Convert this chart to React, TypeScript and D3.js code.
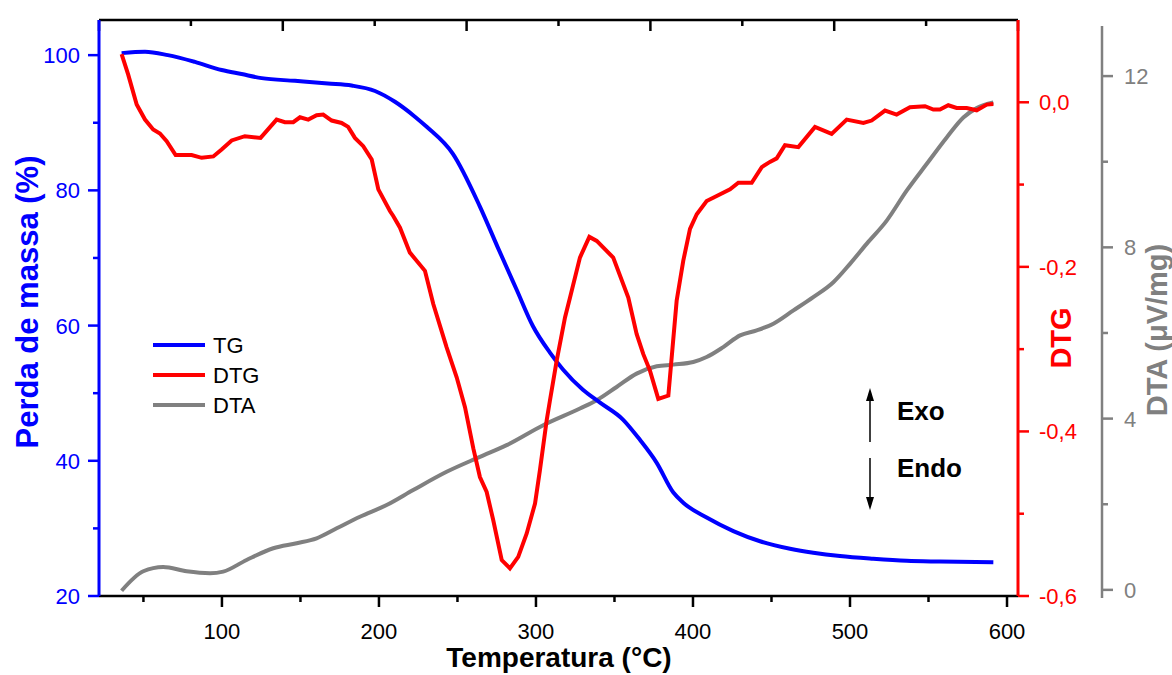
import * as d3 from "d3";

// temperatura (°C) e valores
const tgTemp = [36.1, 51.0, 65.6, 82.8, 99.8, 112.5, 125.3, 146.5, 167.5, 182.6, 197.5, 210.2, 222.9, 230.4, 247.1, 264.3, 275.8, 287.7, 298.1, 308.9, 317.2, 329.9, 340.8, 355.4, 366.2, 376.9, 387.5, 393.8, 408.7, 425.7, 442.7, 461.8, 476.6, 493.6, 514.8, 536.1, 557.3, 591.3];
const tgMass = [100.3, 100.5, 100.0, 99.0, 97.8, 97.2, 96.6, 96.2, 95.8, 95.5, 94.7, 93.1, 90.9, 89.4, 85.4, 77.6, 71.5, 65.3, 59.9, 56.0, 53.5, 50.5, 48.6, 46.1, 43.1, 39.7, 35.3, 33.8, 31.6, 29.6, 28.1, 27.0, 26.4, 25.9, 25.5, 25.2, 25.1, 25.0];

const dtgTemp = [36.1, 40.3, 45.7, 51.0, 56.2, 60.5, 64.8, 70.5, 80.7, 87.1, 94.5, 99.8, 106.2, 114.6, 124.6, 134.8, 140.1, 145.4, 149.7, 155.0, 160.3, 164.5, 169.9, 176.2, 180.4, 184.7, 190.0, 195.4, 199.6, 207.0, 209.1, 213.4, 219.7, 229.3, 234.6, 243.1, 249.5, 254.8, 260.1, 264.3, 268.6, 272.8, 278.2, 283.4, 288.7, 294.1, 299.4, 302.5, 306.8, 308.9, 313.2, 318.5, 321.7, 328.0, 334.0, 338.7, 349.2, 358.8, 364.1, 368.3, 372.6, 377.9, 384.3, 389.6, 393.8, 398.1, 402.4, 408.7, 415.1, 423.6, 428.9, 437.4, 443.8, 449.0, 453.3, 458.6, 467.1, 477.7, 488.3, 497.9, 508.5, 513.8, 522.3, 529.7, 538.2, 547.8, 553.1, 557.3, 562.6, 567.9, 574.3, 580.7, 587.1, 591.3];
const dtgVal = [0.0585, 0.0336, -0.0028, -0.021, -0.0331, -0.0379, -0.0473, -0.0642, -0.0642, -0.0675, -0.0658, -0.0573, -0.0464, -0.0412, -0.0433, -0.021, -0.0242, -0.0242, -0.0182, -0.021, -0.0158, -0.0149, -0.0222, -0.0251, -0.0299, -0.0433, -0.0533, -0.0695, -0.1058, -0.1321, -0.1382, -0.1524, -0.1827, -0.2048, -0.2452, -0.2978, -0.3342, -0.3705, -0.4206, -0.4554, -0.4736, -0.5079, -0.5564, -0.5664, -0.5524, -0.524, -0.4876, -0.4473, -0.3867, -0.3624, -0.3139, -0.2615, -0.2372, -0.1887, -0.1636, -0.1685, -0.1887, -0.2372, -0.2816, -0.3058, -0.3261, -0.3604, -0.3564, -0.2412, -0.1927, -0.1539, -0.1361, -0.12, -0.1139, -0.1058, -0.0978, -0.0978, -0.0788, -0.0724, -0.0682, -0.0521, -0.0545, -0.0299, -0.0384, -0.021, -0.0251, -0.0222, -0.0101, -0.0149, -0.0061, -0.0048, -0.0088, -0.0088, -0.0036, -0.0069, -0.0069, -0.0097, -0.0028, -0.0021];

const dtaTemp = [36.1, 49.9, 62.6, 77.5, 92.4, 100.8, 115.7, 132.7, 147.6, 160.3, 173.1, 187.9, 204.9, 221.8, 243.1, 264.3, 281.3, 304.6, 328.0, 338.7, 351.4, 364.1, 376.9, 387.5, 400.2, 408.7, 419.3, 430.0, 440.6, 451.2, 464.0, 476.6, 489.4, 500.0, 510.6, 523.4, 536.1, 548.8, 561.6, 572.2, 580.7, 591.3];
const dtaVal = [-0.02, 0.434, 0.536, 0.434, 0.389, 0.427, 0.699, 0.972, 1.089, 1.205, 1.438, 1.709, 1.981, 2.331, 2.758, 3.107, 3.38, 3.846, 4.235, 4.429, 4.739, 5.051, 5.221, 5.261, 5.322, 5.438, 5.671, 5.944, 6.061, 6.217, 6.527, 6.837, 7.186, 7.615, 8.082, 8.625, 9.324, 9.946, 10.566, 11.033, 11.252, 11.382];

const xTicks = [100, 200, 300, 400, 500, 600];
const xMinor = [50, 150, 250, 350, 450, 550];
const tgTicks = [20, 40, 60, 80, 100];
const tgMinor = [30, 50, 70, 90];
const dtgTicks = [0, -0.2, -0.4, -0.6];
const dtgMinor = [-0.1, -0.3, -0.5];
const dtaTicks = [0, 4, 8, 12];
const dtaMinor = [2, 6, 10];
const topTicks = [0, 1, 2, 3, 4, 5, 6, 7, 8, 9, 10];

const legendItems = [
    { name: "TG", color: "#0000FF" },
    { name: "DTG", color: "#FF0000" },
    { name: "DTA", color: "#808080" },
];

const FONT = "'Liberation Sans', Arial, Helvetica, sans-serif";
const BLUE = "#0000FF";
const RED = "#FF0000";
const GREY = "#808080";

const App = () => {
    const width = 1172;
    const height = 675;
    const left = 99;
    const right = 1018;
    const top = 20;
    const bottom = 596;
    const dtaX = 1102;

    const x = d3.scaleLinear().domain([21.7, 607]).range([left, right]);
    const xTop = d3.scaleLinear().domain([0, 10]).range([left, right]);
    const yTG = d3.scaleLinear().domain([20, 105.2]).range([bottom, top]);
    const yDTG = d3.scaleLinear().domain([-0.6, 0.1]).range([bottom, top]);
    const yDTA = d3.scaleLinear().domain([-0.19, 13.17]).range([598, 26]);

    const tgLine = d3
        .line<number>()
        .x((d, i) => x(tgTemp[i]))
        .y((d) => yTG(d))
        .curve(d3.curveMonotoneX)(tgMass);
    const dtgLine = d3
        .line<number>()
        .x((d, i) => x(dtgTemp[i]))
        .y((d) => yDTG(d))(dtgVal);
    const dtaLine = d3
        .line<number>()
        .x((d, i) => x(dtaTemp[i]))
        .y((d) => yDTA(d))
        .curve(d3.curveMonotoneX)(dtaVal);

    const fmtComma = (v) => d3.format(".1f")(v).replace(".", ",").replace("−", "-");

    return (
        <div>
            <style>{`body{margin:0}`}</style>
            <svg width={width} height={height} style={{ display: "block", background: "#fff" }}>
                {/* curvas */}
                <path d={dtaLine} stroke={GREY} strokeWidth={4} fill="none" />
                <path d={tgLine} stroke={BLUE} strokeWidth={4} fill="none" />
                <path d={dtgLine} stroke={RED} strokeWidth={4} fill="none" />

                {/* eixo superior */}
                <line x1={left} x2={right} y1={top} y2={top} stroke="#000" strokeWidth={2.5} />
                {topTicks.map((t) => (
                    <line
                        key={"tt" + t}
                        x1={xTop(t)}
                        x2={xTop(t)}
                        y1={top}
                        y2={top + (t % 2 === 0 ? 11 : 6)}
                        stroke="#000"
                        strokeWidth={2.5}
                    />
                ))}

                {/* eixo inferior */}
                <line x1={left} x2={right} y1={bottom} y2={bottom} stroke="#000" strokeWidth={2.5} />
                {xTicks.map((t) => (
                    <g key={"x" + t}>
                        <line x1={x(t)} x2={x(t)} y1={bottom} y2={bottom + 11} stroke="#000" strokeWidth={2.5} />
                        <text x={x(t)} y={bottom + 43} textAnchor="middle" fontFamily={FONT} fontSize={22} fill="#000">
                            {t}
                        </text>
                    </g>
                ))}
                {xMinor.map((t) => (
                    <line key={"xm" + t} x1={x(t)} x2={x(t)} y1={bottom} y2={bottom + 6} stroke="#000" strokeWidth={2.5} />
                ))}
                <text x={559} y={667} textAnchor="middle" fontFamily={FONT} fontSize={28} fontWeight="bold" fill="#000">
                    Temperatura (°C)
                </text>

                {/* eixo TG (esquerda) */}
                <line x1={left} x2={left} y1={top} y2={bottom} stroke={BLUE} strokeWidth={3} />
                {tgTicks.map((t) => (
                    <g key={"tg" + t}>
                        <line x1={left - 11} x2={left} y1={yTG(t)} y2={yTG(t)} stroke={BLUE} strokeWidth={2.5} />
                        <text x={left - 19} y={yTG(t) + 8} textAnchor="end" fontFamily={FONT} fontSize={22} fill={BLUE}>
                            {t}
                        </text>
                    </g>
                ))}
                {tgMinor.map((t) => (
                    <line key={"tgm" + t} x1={left - 6} x2={left} y1={yTG(t)} y2={yTG(t)} stroke={BLUE} strokeWidth={2.5} />
                ))}
                <text
                    transform={`translate(38,302) rotate(-90)`}
                    textAnchor="middle"
                    fontFamily={FONT}
                    fontSize={31}
                    fontWeight="bold"
                    fill={BLUE}
                >
                    Perda de massa (%)
                </text>

                {/* eixo DTG (direita) */}
                <line x1={right} x2={right} y1={top} y2={bottom} stroke={RED} strokeWidth={3} />
                {dtgTicks.map((t) => (
                    <g key={"dtg" + t}>
                        <line x1={right} x2={right + 11} y1={yDTG(t)} y2={yDTG(t)} stroke={RED} strokeWidth={2.5} />
                        <text x={right + 21} y={yDTG(t) + 8} textAnchor="start" fontFamily={FONT} fontSize={22} fill={RED}>
                            {fmtComma(t)}
                        </text>
                    </g>
                ))}
                {dtgMinor.map((t) => (
                    <line key={"dtgm" + t} x1={right} x2={right + 6} y1={yDTG(t)} y2={yDTG(t)} stroke={RED} strokeWidth={2.5} />
                ))}
                <text
                    transform={`translate(1071,338) rotate(-90)`}
                    textAnchor="middle"
                    fontFamily={FONT}
                    fontSize={29}
                    fontWeight="bold"
                    fill={RED}
                >
                    DTG
                </text>

                {/* eixo DTA (deslocado) */}
                <line x1={dtaX} x2={dtaX} y1={26} y2={598} stroke={GREY} strokeWidth={2.5} />
                {dtaTicks.map((t) => (
                    <g key={"dta" + t}>
                        <line x1={dtaX} x2={dtaX + 11} y1={yDTA(t)} y2={yDTA(t)} stroke={GREY} strokeWidth={2.5} />
                        <text x={dtaX + 22} y={yDTA(t) + 8} textAnchor="start" fontFamily={FONT} fontSize={22} fill={GREY}>
                            {t}
                        </text>
                    </g>
                ))}
                {dtaMinor.map((t) => (
                    <line key={"dtam" + t} x1={dtaX} x2={dtaX + 6} y1={yDTA(t)} y2={yDTA(t)} stroke={GREY} strokeWidth={2.5} />
                ))}
                <text
                    transform={`translate(1167,330) rotate(-90)`}
                    textAnchor="middle"
                    fontFamily={FONT}
                    fontSize={29}
                    fontWeight="bold"
                    fill={GREY}
                >
                    DTA (μV/mg)
                </text>

                {/* legenda */}
                {legendItems.map((s, i) => (
                    <g key={s.name} transform={`translate(153,${345 + i * 30})`}>
                        <line x1={0} x2={52} y1={0} y2={0} stroke={s.color} strokeWidth={4} />
                        <text x={60} y={8} fontFamily={FONT} fontSize={22} fill="#000">
                            {s.name}
                        </text>
                    </g>
                ))}

                {/* Exo / Endo */}
                <g stroke="#000" strokeWidth={1.5} fill="#000">
                    <line x1={870} x2={870} y1={442} y2={398} />
                    <path d="M870,388 L866,401 L874,401 Z" stroke="none" />
                    <line x1={870} x2={870} y1={458} y2={500} />
                    <path d="M870,510 L866,497 L874,497 Z" stroke="none" />
                </g>
                <text x={897} y={420} fontFamily={FONT} fontSize={26} fontWeight="bold" fill="#000">
                    Exo
                </text>
                <text x={897} y={477} fontFamily={FONT} fontSize={26} fontWeight="bold" fill="#000">
                    Endo
                </text>
            </svg>
        </div>
    );
};

export default App;
